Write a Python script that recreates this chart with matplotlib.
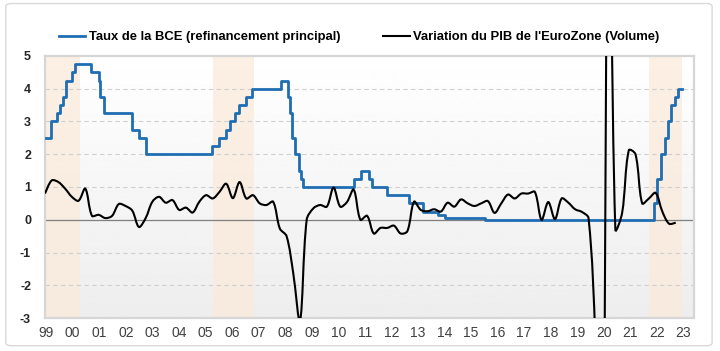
import numpy as np
import pandas as pd
import matplotlib
matplotlib.use("Agg")
from matplotlib import pyplot as plt
from matplotlib.path import Path
from matplotlib.patches import PathPatch, FancyBboxPatch
from matplotlib.lines import Line2D

plt.rcParams['font.family'] = ['Liberation Sans', 'DejaVu Sans']

# Taux de refinancement principal de la BCE (date de changement, niveau en %)
rate_dates = ["1999-09-01", "1999-11-05", "2000-02-04", "2000-03-17", "2000-04-28",
              "2000-06-09", "2000-09-01", "2000-10-06", "2001-05-11", "2001-08-31",
              "2001-09-18", "2001-11-09", "2002-12-06", "2003-03-07", "2003-06-06",
              "2005-12-06", "2006-03-08", "2006-06-15", "2006-08-09", "2006-10-11",
              "2006-12-13", "2007-03-14", "2007-06-13", "2008-07-09", "2008-10-15",
              "2008-11-12", "2008-12-10", "2009-01-21", "2009-03-11", "2009-04-08",
              "2009-05-13", "2011-04-13", "2011-07-13", "2011-11-09", "2011-12-14",
              "2012-07-11", "2013-05-08", "2013-11-13", "2014-06-11", "2014-09-10",
              "2016-03-16", "2022-07-27", "2022-09-14", "2022-11-02", "2022-12-21",
              "2023-02-08", "2023-03-22", "2023-05-10", "2023-06-21", "2023-08-15"]
rate_levels = [2.50, 3.00, 3.25, 3.50, 3.75, 4.25, 4.50, 4.75, 4.50, 4.25,
               3.75, 3.25, 2.75, 2.50, 2.00, 2.25, 2.50, 2.75, 3.00, 3.25,
               3.50, 3.75, 4.00, 4.25, 3.75, 3.25, 2.50, 2.00, 1.50, 1.25,
               1.00, 1.25, 1.50, 1.25, 1.00, 0.75, 0.50, 0.25, 0.15, 0.05,
               0.00, 0.50, 1.25, 2.00, 2.50, 3.00, 3.50, 3.75, 4.00, 4.00]

# Variation trimestrielle du PIB de la zone euro (%), T3 1999 -> T1 2023
gdp_values = [0.80, 1.20, 1.15, 0.95, 0.70, 0.58, 0.95, 0.12, 0.15, 0.05,
              0.12, 0.48, 0.42, 0.28, -0.22, 0.05, 0.55, 0.70, 0.52, 0.60,
              0.30, 0.37, 0.22, 0.55, 0.75, 0.65, 0.85, 1.10, 0.66, 1.15,
              0.65, 0.75, 0.50, 0.45, 0.55, -0.27, -0.50, -1.64, -3.10, 0.00,
              0.35, 0.45, 0.40, 0.98, 0.40, 0.54, 0.92, 0.00, 0.12, -0.42,
              -0.25, -0.25, -0.18, -0.42, -0.35, 0.55, 0.30, 0.26, 0.32, 0.25,
              0.52, 0.40, 0.62, 0.50, 0.42, 0.50, 0.57, 0.21, 0.50, 0.77,
              0.65, 0.80, 0.80, 0.85, 0.00, 0.54, 0.02, 0.65, 0.52, 0.32,
              0.24, 0.05, -3.60, -11.50, 12.40, -0.30, 0.20, 2.12, 2.00, 0.50,
              0.65, 0.82, 0.25, -0.12, -0.09]

# Cycles de hausse de taux (zones ombrées)
hike_start = [1999.60, 2005.95, 2022.40]
hike_end = [2000.95, 2007.50, 2023.62]

years = list(range(1999, 2024))
year_labels = [f"{y % 100:02d}" for y in years]


def to_decimal_year(dates):
    d = pd.to_datetime(pd.Series(dates))
    days = np.where(d.dt.is_leap_year, 366, 365)
    return (d.dt.year + (d.dt.dayofyear - 1) / days).to_numpy()


def smooth_path(xs, ys, sx, sy):
    # courbe lissée passant par chaque point, poignées proportionnelles
    # à la longueur des segments (mesurée en pixels via sx, sy)
    xs = np.asarray(xs, float)
    ys = np.asarray(ys, float)
    n = len(xs)
    d = np.hypot(np.diff(xs) * sx, np.diff(ys) * sy)
    tx = np.empty(n)
    ty = np.empty(n)
    for i in range(n):
        a = max(i - 1, 0)
        b = min(i + 1, n - 1)
        tx[i] = xs[b] - xs[a]
        ty[i] = ys[b] - ys[a]
    verts = [(xs[0], ys[0])]
    codes = [Path.MOVETO]
    for i in range(n - 1):
        dp = d[i - 1] if i > 0 else d[i]
        dn = d[i + 1] if i + 1 < n - 1 else d[i]
        f1 = d[i] / (dp + d[i]) / 3 if i > 0 else 1 / 6
        f2 = d[i] / (d[i] + dn) / 3 if i + 1 < n - 1 else 1 / 6
        c1 = (xs[i] + tx[i] * f1, ys[i] + ty[i] * f1)
        c2 = (xs[i + 1] - tx[i + 1] * f2, ys[i + 1] - ty[i + 1] * f2)
        verts += [c1, c2, (xs[i + 1], ys[i + 1])]
        codes += [Path.CURVE4] * 3
    return Path(verts, codes)


blue = '#1f6db3'

fig = plt.figure(figsize=(7.2, 3.51), dpi=100)
fig.patches.append(FancyBboxPatch((0.008, 0.015), 0.981, 0.975,
                                  boxstyle="round,pad=0,rounding_size=0.008",
                                  transform=fig.transFigure, fc='white',
                                  ec='#d9d9d9', lw=1.0, zorder=-5))

ax = fig.add_axes([0.0625, 0.094, 0.9014, 0.7465])
ax.set_xlim(1999.635, 2024.08)
ax.set_ylim(-3, 5)

grad = np.linspace(1.0, 0.93, 256).reshape(-1, 1)
ax.imshow(grad, extent=[0, 1, 0, 1], transform=ax.transAxes, aspect='auto',
          cmap='gray', vmin=0, vmax=1, zorder=0)

for s, e in zip(hike_start, hike_end):
    ax.axvspan(s, e, color='#fbeadb', alpha=0.75, lw=0, zorder=1)

for v in [-2, -1, 1, 2, 3, 4]:
    ax.axhline(v, color='#d0d0d0', lw=0.8, ls=(0, (4, 3)), zorder=2)
ax.axhline(0, color='#7f7f7f', lw=0.9, zorder=2)

ax.step(to_decimal_year(rate_dates), rate_levels, where='post',
        color=blue, lw=2.0, zorder=3)

ax.set_yticks(range(-3, 6))
ax.set_yticklabels([str(v) for v in range(-3, 6)], fontweight='bold',
                   fontsize=9, color='#262626')
ax.set_xticks([y + 0.68 for y in years])
ax.set_xticklabels(year_labels, fontsize=10, color='#404040')
ax.tick_params(length=0)
ax.tick_params(axis='y', pad=10)
ax.tick_params(axis='x', pad=6)
for sp in ax.spines.values():
    sp.set_color('#d6d6d6')
    sp.set_linewidth(1.6)

# PIB sur un axe secondaire (trimestres)
ax2 = ax.twiny()
ax2.set_xlim(0, 96.72)
ax2.set_xticks([])
for sp in ax2.spines.values():
    sp.set_visible(False)
k = np.arange(len(gdp_values))
ax2.add_patch(PathPatch(smooth_path(k, gdp_values, 6.71, 32.75), fill=False,
                        ec='black', lw=1.5, zorder=4))

handles = [Line2D([], [], color=blue, lw=2.0),
           Line2D([], [], color='black', lw=1.5)]
labels = ["Taux de la BCE (refinancement principal)",
          "Variation du PIB de l'EuroZone (Volume)"]
fig.legend(handles, labels, loc='center', bbox_to_anchor=(0.499, 0.894),
           ncol=2, frameon=False, handlelength=2.0, handletextpad=0.3,
           columnspacing=3.3, prop={'weight': 'bold', 'size': 9.4})

fig.savefig('out.png', dpi=100)
